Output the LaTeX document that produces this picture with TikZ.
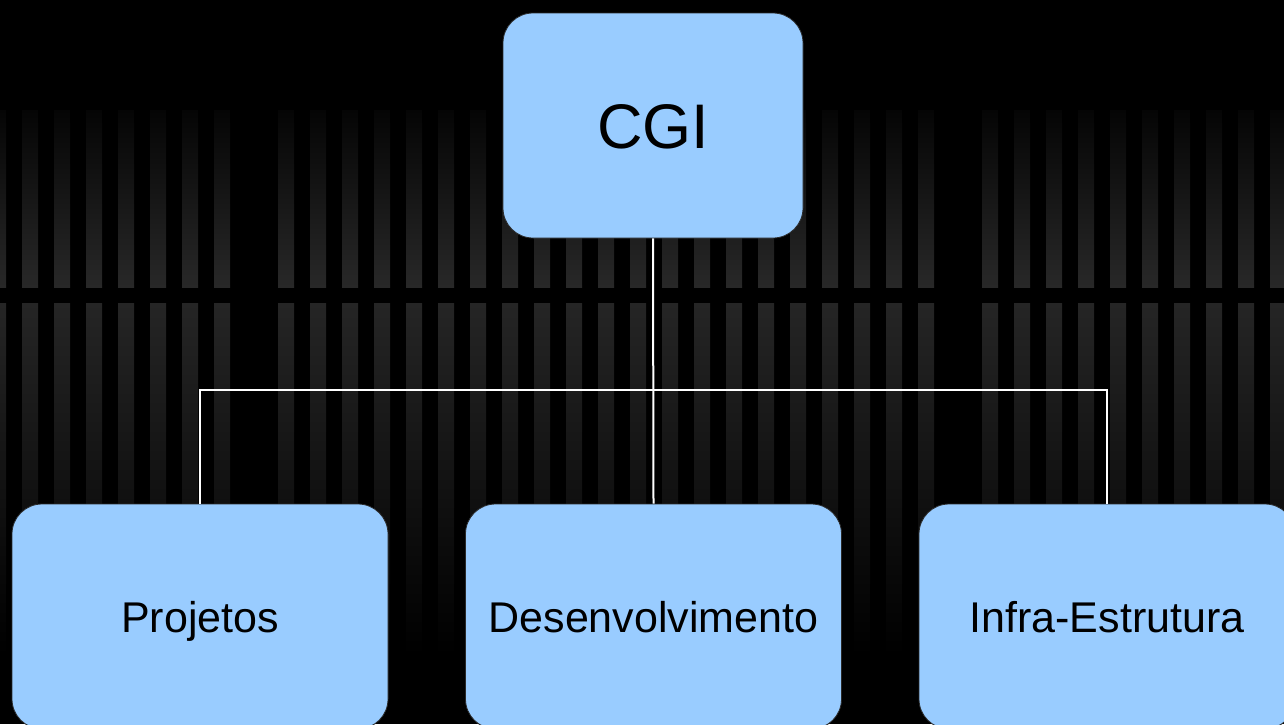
\documentclass[tikz,border=0pt]{standalone}
\usepackage{fontspec}
\setmainfont{Liberation Sans}
\definecolor{boxfill}{HTML}{99CCFF}
\definecolor{stripetop}{HTML}{050505}
\definecolor{stripemid}{HTML}{282828}
\definecolor{stripelow}{HTML}{252525}
\definecolor{edgecol}{HTML}{2A2A2A}
\tikzset{
  orgbox/.style={draw=edgecol, line width=0.8pt, fill=boxfill, rounded corners=30pt,
    inner sep=0pt, text=black, text depth=0pt},
  topbox/.style={orgbox, minimum width=300pt, minimum height=225pt,
    text height=45pt, font=\fontsize{63}{70}\selectfont},
  subbox/.style={orgbox, minimum width=376pt, minimum height=225pt,
    text height=31pt, font=\fontsize{43}{50}\selectfont},
  conn/.style={draw=white, line width=2pt}
}
\begin{document}
\begin{tikzpicture}[x=1pt,y=-1pt]
\useasboundingbox (0,0) rectangle (1284,724);
\fill[black] (0,0) rectangle (1284,724);
% background stripes
\foreach \k in {-1,0,...,6,8,9,...,28,30,31,...,39}{
  \shade[top color=stripetop, bottom color=stripemid] ({22+32*\k},110) rectangle ++(16,177);
  \shade[top color=stripelow, bottom color=black] ({22+32*\k},303) rectangle ++(16,352);
}
% nodes
\node[topbox] (cgi) at (653,125.5) {CGI};
\node[subbox] (p) at (200,616.5) {Projetos};
\node[subbox] (d) at (653.5,616.5) {Desenvolvimento};
\node[subbox] (i) at (1107,616.5) {Infra-Estrutura};
% connectors
\coordinate (j) at (653.5,390);
\draw[conn] (cgi.south) -- (d.north);
\draw[conn] (p.north) |- (j) -| (i.north);
\end{tikzpicture}
\end{document}
